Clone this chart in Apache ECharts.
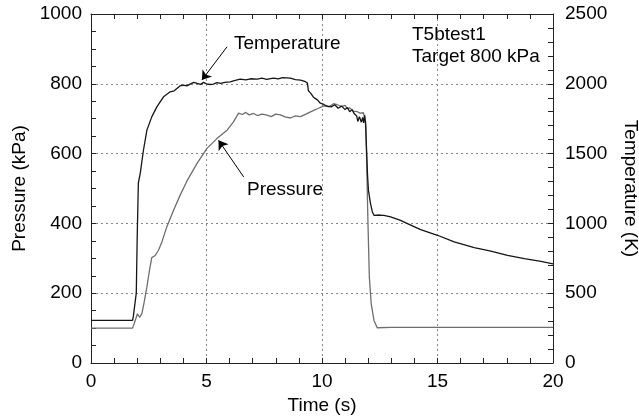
<!DOCTYPE html>
<html>
<head>
<meta charset="utf-8">
<script src="https://cdn.jsdelivr.net/npm/echarts@6/dist/echarts.min.js"></script>
<style>
  html, body { margin: 0; padding: 0; background: #fff; }
  #chart { width: 639px; height: 420px; }
</style>
</head>
<body>
<div id="chart"></div>
<script>
// Temperature trace (K) against time (s)
const tempTime = [0, 1.8, 1.83, 1.91, 1.96, 2.0, 2.05, 2.13, 2.27, 2.42, 2.63, 2.85, 3.14, 3.43, 3.6, 3.72, 3.85, 4.0, 4.15, 4.29, 4.45, 4.59, 4.75, 4.87, 5.0, 5.16, 5.3, 5.45, 5.6, 5.8, 6.03, 6.2, 6.46, 6.7, 6.9, 7.2, 7.4, 7.6, 7.9, 8.1, 8.3, 8.63, 8.85, 9.07, 9.25, 9.37, 9.41, 9.5, 9.63, 9.8, 9.93, 10.05, 10.15, 10.24, 10.4, 10.55, 10.7, 10.85, 11.0, 11.1, 11.2, 11.3, 11.4, 11.5, 11.55, 11.62, 11.7, 11.76, 11.8, 11.85, 11.89, 11.93, 11.97, 12.01, 12.1, 12.18, 12.25, 12.5, 12.68, 12.97, 13.4, 13.7, 14.27, 15.0, 15.72, 16.59, 17.31, 18.03, 18.76, 19.48, 20];
const tempK = [305, 305, 330, 340, 500, 900, 1290, 1357, 1524, 1668, 1763, 1835, 1907, 1943, 1950, 1967, 1985, 1991, 1985, 1998, 2010, 2003, 1996, 2010, 2000, 1995, 1998, 2008, 2003, 2010, 2014, 2022, 2034, 2028, 2036, 2034, 2040, 2032, 2041, 2036, 2044, 2041, 2030, 2027, 2018, 2005, 1950, 1935, 1904, 1885, 1861, 1855, 1845, 1840, 1835, 1850, 1825, 1840, 1815, 1830, 1800, 1815, 1785, 1770, 1730, 1765, 1725, 1760, 1720, 1775, 1700, 1524, 1350, 1237, 1142, 1082, 1058, 1060, 1058, 1046, 1022, 999, 955, 915, 867, 826, 802, 771, 747, 728, 710];

// Pressure trace (kPa) against time (s)
const pressTime = [0, 1.8, 1.84, 1.94, 2.01, 2.10, 2.20, 2.30, 2.42, 2.53, 2.63, 2.70, 2.78, 2.92, 3.07, 3.28, 3.57, 3.86, 4.15, 4.59, 5.02, 5.45, 5.89, 6.16, 6.39, 6.55, 6.7, 6.85, 7.04, 7.2, 7.4, 7.62, 7.8, 8.0, 8.2, 8.4, 8.63, 8.85, 9.07, 9.3, 9.64, 9.85, 10.08, 10.3, 10.5, 10.66, 10.85, 11.0, 11.09, 11.2, 11.35, 11.53, 11.65, 11.79, 11.89, 11.93, 11.99, 12.05, 12.13, 12.25, 12.39, 13, 14, 15, 16, 17, 18, 19, 20];
const pressKPa = [100, 100, 104, 127, 141, 131, 141, 174, 218, 265, 302, 306, 308, 323, 347, 390, 437, 481, 521, 572, 615, 643, 667, 690, 716, 712, 718, 711, 715, 709, 713, 710, 706, 713, 711, 705, 702, 708, 706, 713, 724, 730, 737, 734, 743, 740, 735, 738, 729, 731, 722, 720, 716, 717, 691, 590, 400, 246, 170, 122, 101, 102, 102, 102, 102, 102, 102, 102, 102];

// Axis ranges and tick steps
const timeRange = [0, 20], timeStep = 5;
const pressRange = [0, 1000], pressStep = 200;
const tempRange = [0, 2500], tempStep = 500;

// Annotation arrows: [time, value] tail -> head
const tempArrow = [[5.89, 2265], [4.80, 2027]];
const pressArrow = [[6.61, 533], [5.52, 638]];

const FONT = '"Liberation Sans", Arial, sans-serif';
const FS = 19;
const AXIS_COLOR = '#222';
const GRID_STYLE = { color: '#888', type: [2, 3], width: 1 };

const zip = (xs, ys) => xs.map((x, i) => [x, ys[i]]);
const plain = v => String(v);

const chart = echarts.init(document.getElementById('chart'), null, { renderer: 'canvas' });

const axisLine = { show: true, onZero: false, lineStyle: { color: AXIS_COLOR, width: 1 } };
const axisTick = { show: true, inside: true, length: 5, lineStyle: { color: AXIS_COLOR } };
const minor = n => ({ show: true, splitNumber: n, length: 5, lineStyle: { color: AXIS_COLOR } });
const labelStyle = m => ({ fontSize: FS, color: '#000', margin: m, fontFamily: FONT, formatter: plain });
const nameStyle = { fontSize: FS, color: '#000', fontFamily: FONT };

chart.setOption({
  animation: false,
  backgroundColor: '#fff',
  textStyle: { fontFamily: FONT },
  grid: { left: 91, right: 86, top: 14, bottom: 57, containLabel: false, outerBoundsMode: 'none' },
  xAxis: [
    {
      type: 'value', position: 'bottom',
      min: timeRange[0], max: timeRange[1], interval: timeStep,
      axisLine, axisTick, minorTick: minor(5),
      axisLabel: labelStyle(9),
      splitLine: { show: true, lineStyle: GRID_STYLE },
      name: 'Time (s)', nameLocation: 'middle', nameGap: 31, nameTextStyle: nameStyle
    },
    {
      type: 'value', position: 'top',
      min: timeRange[0], max: timeRange[1], interval: timeStep,
      axisLine, axisTick, minorTick: minor(5),
      axisLabel: { show: false },
      splitLine: { show: false }
    }
  ],
  yAxis: [
    {
      type: 'value', position: 'left',
      min: pressRange[0], max: pressRange[1], interval: pressStep,
      axisLine, axisTick, minorTick: minor(4),
      axisLabel: labelStyle(9),
      splitLine: { show: true, lineStyle: GRID_STYLE },
      name: 'Pressure (kPa)', nameLocation: 'middle', nameGap: 58, nameTextStyle: nameStyle
    },
    {
      type: 'value', position: 'right',
      min: tempRange[0], max: tempRange[1], interval: tempStep,
      axisLine, axisTick, minorTick: minor(5),
      axisLabel: labelStyle(12),
      splitLine: { show: false },
      name: 'Temperature (K)', nameLocation: 'middle', nameGap: 68, nameRotate: -90,
      nameTextStyle: nameStyle
    }
  ],
  series: [
    {
      name: 'Pressure', type: 'line', xAxisIndex: 0, yAxisIndex: 0,
      data: zip(pressTime, pressKPa), showSymbol: false, symbol: 'none',
      lineStyle: { color: '#6e6e6e', width: 1.3 },
      markLine: {
        silent: true, symbol: ['none', 'arrow'], symbolSize: 9,
        label: { show: false },
        lineStyle: { color: '#000', width: 1, type: 'solid' },
        data: [[{ coord: pressArrow[0] }, { coord: pressArrow[1] }]]
      },
      z: 3
    },
    {
      name: 'Temperature', type: 'line', xAxisIndex: 0, yAxisIndex: 1,
      data: zip(tempTime, tempK), showSymbol: false, symbol: 'none',
      lineStyle: { color: '#151515', width: 1.3 },
      markLine: {
        silent: true, symbol: ['none', 'arrow'], symbolSize: 9,
        label: { show: false },
        lineStyle: { color: '#000', width: 1, type: 'solid' },
        data: [[{ coord: tempArrow[0] }, { coord: tempArrow[1] }]]
      },
      z: 4
    }
  ],
  graphic: [
    { type: 'text', left: 234, top: 34, style: { text: 'Temperature', font: FS + 'px ' + FONT, fill: '#000' } },
    { type: 'text', left: 247, top: 180, style: { text: 'Pressure', font: FS + 'px ' + FONT, fill: '#000' } },
    { type: 'text', left: 412, top: 25, style: { text: 'T5btest1', font: FS + 'px ' + FONT, fill: '#000' } },
    { type: 'text', left: 412, top: 47, style: { text: 'Target 800 kPa', font: FS + 'px ' + FONT, fill: '#000' } }
  ]
});
</script>
</body>
</html>
